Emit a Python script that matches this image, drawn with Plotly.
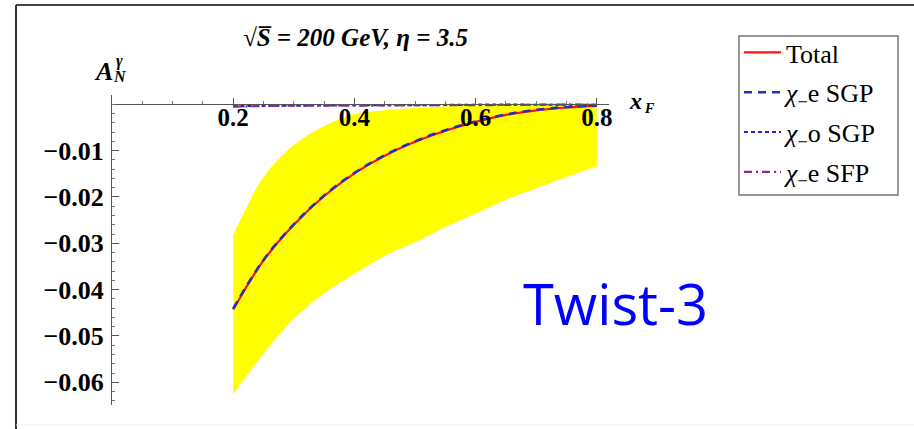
import plotly.graph_objects as go

# ---------------- data ----------------
x_curve = [0.20, 0.25, 0.30, 0.35, 0.40, 0.45, 0.50, 0.55, 0.60, 0.65, 0.70, 0.75, 0.80]
total = [-0.0443, -0.0337, -0.0260, -0.0198, -0.0149, -0.0111, -0.0081, -0.0057,
         -0.0038, -0.0023, -0.0013, -0.0007, -0.0003]
chi_e_sgp = [-0.0441, -0.0336, -0.0259, -0.0197, -0.0148, -0.0110, -0.0080, -0.0056,
             -0.0037, -0.0022, -0.0012, -0.0006, -0.0003]
x_small = [0.20, 0.30, 0.40, 0.50, 0.60, 0.70, 0.80]
chi_o_sgp = [-0.0004, -0.0003, -0.0002, -0.0002, -0.0001, -0.0001, -0.0001]
chi_e_sfp = [-0.0005, -0.0003, -0.0003, -0.0002, -0.0002, -0.0001, -0.0001]

x_band_top = [0.20, 0.22, 0.25, 0.30, 0.35, 0.40, 0.45, 0.50, 0.55, 0.60, 0.70, 0.80]
band_top = [-0.0282, -0.0228, -0.0157, -0.0088, -0.0047, -0.0021, -0.0013, -0.0008,
            -0.0005, -0.0004, -0.0003, -0.0002]
x_band_bot = [0.20, 0.25, 0.30, 0.35, 0.40, 0.45, 0.50, 0.55, 0.60, 0.65, 0.70, 0.75, 0.80]
band_bot = [-0.0626, -0.0538, -0.0463, -0.0408, -0.0366, -0.0327, -0.0298, -0.0265,
            -0.0236, -0.0206, -0.0181, -0.0157, -0.0134]

x_ticks = [0.2, 0.4, 0.6, 0.8]
x_ticklabels = ["0.2", "0.4", "0.6", "0.8"]
y_ticks = [-0.01, -0.02, -0.03, -0.04, -0.05, -0.06]
y_ticklabels = ["\u22120.01", "\u22120.02", "\u22120.03", "\u22120.04", "\u22120.05", "\u22120.06"]

legend_names = ["Total", "<i>\u03c7</i><sub>\u2212</sub>e SGP", "<i>\u03c7</i><sub>\u2212</sub>o SGP",
                "<i>\u03c7</i><sub>\u2212</sub>e SFP"]

X_RANGE = [0.0, 0.82]
Y_RANGE = [-0.0649, 0.0020]

# ---------------- layout geometry ----------------
W, H = 914, 429
ML, MR, MT, MB = 112, 305, 95, 24
PW, PH = W - ML - MR, H - MT - MB


def px(xp):
    return (xp - ML) / PW


def py(yp):
    return (H - MB - yp) / PH


serif = "Liberation Serif"

fig = go.Figure()

# yellow uncertainty band (lower edge, then upper edge filled down to it)
fig.add_trace(go.Scatter(
    x=x_band_bot, y=band_bot, mode="lines", line=dict(width=0, color="#ffff00", shape="spline"),
    showlegend=False, hoverinfo="skip"))
fig.add_trace(go.Scatter(
    x=x_band_top, y=band_top, mode="lines", line=dict(width=0, color="#ffff00", shape="spline"),
    fill="tonexty", fillcolor="#ffff00", showlegend=False, hoverinfo="skip"))

fig.add_trace(go.Scatter(x=x_curve, y=total, mode="lines", name=legend_names[0],
                         line=dict(color="#ff1010", width=2.2, shape="spline"), legendgroup="a"))
fig.add_trace(go.Scatter(x=x_curve, y=chi_e_sgp, mode="lines", name=legend_names[1],
                         line=dict(color="#2630c0", width=2.6, dash="8px,6px", shape="spline"),
                         legendgroup="b"))
fig.add_trace(go.Scatter(x=x_small, y=chi_o_sgp, mode="lines", name=legend_names[2],
                         line=dict(color="#2222cc", width=2.2, dash="4px,3px", shape="spline"),
                         legendgroup="c"))
fig.add_trace(go.Scatter(x=x_small, y=chi_e_sfp, mode="lines", name=legend_names[3],
                         line=dict(color="#8a2a9a", width=2.2, dash="8px,4px,2px,4px", shape="spline"),
                         legendgroup="d"))

y0_frac = (0 - Y_RANGE[0]) / (Y_RANGE[1] - Y_RANGE[0])
label_lift = 4 / PH  # x tick labels sit right under the zero axis line

fig.update_layout(
    width=W, height=H,
    margin=dict(l=ML, r=MR, t=MT, b=MB),
    paper_bgcolor="white", plot_bgcolor="white",
    xaxis=dict(
        range=X_RANGE, anchor="free", position=y0_frac, side="bottom",
        showgrid=False, zeroline=False, showline=True, linecolor="#555", linewidth=1,
        tickmode="array", tickvals=x_ticks, ticktext=x_ticklabels, showticklabels=False,
        ticks="inside", ticklen=6, tickwidth=1, tickcolor="#555",
        minor=dict(tickmode="linear", tick0=0, dtick=0.05, ticks="inside", ticklen=3,
                   tickcolor="#777", showgrid=False),
    ),
    xaxis2=dict(
        range=X_RANGE, overlaying="x", anchor="free", position=y0_frac + label_lift, side="bottom",
        showgrid=False, zeroline=False, showline=False, ticks="",
        tickmode="array", tickvals=x_ticks, ticktext=x_ticklabels,
        tickfont=dict(family=serif, size=25, color="black", weight="bold"),
    ),
    yaxis=dict(
        range=Y_RANGE, showgrid=False, zeroline=False, showline=True, linecolor="#555",
        linewidth=1, tickmode="array", tickvals=y_ticks, ticktext=y_ticklabels,
        ticks="inside", ticklen=7, tickwidth=1, tickcolor="#555",
        minor=dict(tickmode="linear", tick0=0, dtick=0.002, ticks="inside", ticklen=3,
                   tickcolor="#777", showgrid=False),
        tickfont=dict(family=serif, size=26, color="black", weight="bold"),
        ticklabelstandoff=2,
    ),
    legend=dict(
        x=px(739), y=py(29), xanchor="left", yanchor="top",
        borderwidth=0, bgcolor="rgba(0,0,0,0)",
        font=dict(family=serif, size=26, color="black"),
        tracegroupgap=3, itemwidth=37,
    ),
    showlegend=True,
)

# invisible carrier so the label axis is drawn
fig.add_trace(go.Scatter(x=[X_RANGE[0]], y=[Y_RANGE[0]], xaxis="x2", mode="markers",
                         marker=dict(opacity=0), showlegend=False, hoverinfo="skip"))

annotations = [
    dict(x=px(355), y=py(37), text="<b><i>\u221aS\u0305 = 200 GeV, \u03b7 = 3.5</i></b>",
         font=dict(family=serif, size=25, color="black")),
    dict(x=px(103), y=py(71), text="<b><i>A</i></b>", font=dict(family=serif, size=26, color="black")),
    dict(x=px(119), y=py(61), text="<b><i>\u03b3</i></b>", font=dict(family=serif, size=16, color="black")),
    dict(x=px(120), y=py(76), text="<b><i>N</i></b>", font=dict(family=serif, size=16, color="black")),
    dict(x=px(635), y=py(101), text="<b><i>x</i></b>", font=dict(family=serif, size=24, color="black")),
    dict(x=px(649), y=py(108), text="<b><i>F</i></b>", font=dict(family=serif, size=14, color="black")),
    dict(x=px(615), y=py(303), text="Twist-3", font=dict(family="Open Sans", size=56, color="#0000ff")),
]
for a in annotations:
    a.update(xref="paper", yref="paper", showarrow=False, xanchor="center", yanchor="middle")
fig.update_layout(annotations=annotations)

# legend frame
fig.add_shape(type="rect", xref="paper", yref="paper", x0=px(739), x1=px(898), y0=py(36), y1=py(195),
              line=dict(color="#777", width=1.5), fillcolor="rgba(0,0,0,0)", layer="below")

# outer frame of the image
fig.add_shape(type="line", xref="paper", yref="paper", x0=px(16), x1=px(16), y0=py(5), y1=py(429),
              line=dict(color="#333", width=2))
fig.add_shape(type="line", xref="paper", yref="paper", x0=px(16), x1=px(914), y0=py(5), y1=py(5),
              line=dict(color="#444", width=2))
fig.add_shape(type="line", xref="paper", yref="paper", x0=px(16), x1=px(914), y0=py(425), y1=py(425),
              line=dict(color="#eee", width=1))

fig.write_html("out.html")
